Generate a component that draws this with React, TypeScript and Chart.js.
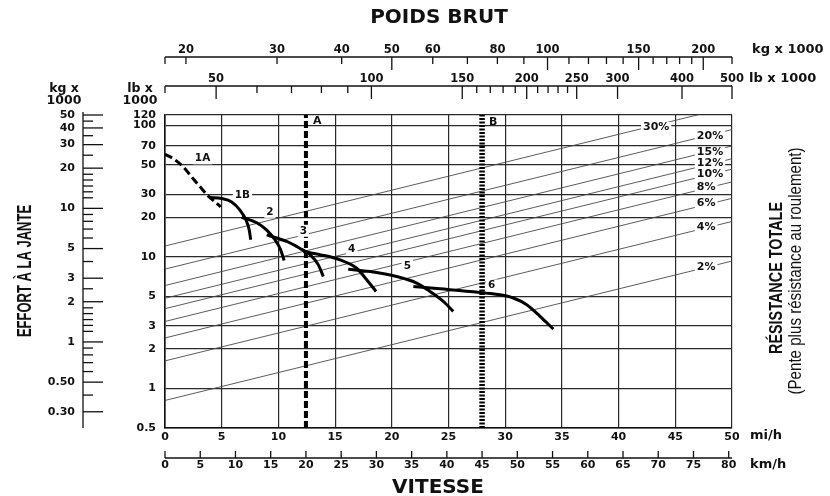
import React, { useEffect, useRef } from 'react';
import { Chart, registerables } from 'chart.js';

Chart.register(...registerables);

// ---------------- data ----------------
const speedTicksMph = [0, 5, 10, 15, 20, 25, 30, 35, 40, 45, 50];
const speedTicksKmh = [0, 5, 10, 15, 20, 25, 30, 35, 40, 45, 50, 55, 60, 65, 70, 75, 80];
const rimpullTicksLb = [0.5, 1, 2, 3, 5, 10, 20, 30, 50, 70, 100, 120];
const rimpullTickLabelsLb = ['0.5', '1', '2', '3', '5', '10', '20', '30', '50', '70', '100', '120'];

const rimpullMajorKg = [50, 40, 30, 20, 10, 5, 3, 2, 1, 0.5, 0.3];
const rimpullMajorKgLabels = ['50', '40', '30', '20', '10', '5', '3', '2', '1', '0.50', '0.30'];
const rimpullMinorKg = [45, 35, 25, 18, 16.3, 14.7, 13.3, 12, 9, 8, 7, 6, 4, 2.5, 1.8, 1.63, 1.47, 1.33, 1.2, 0.9, 0.8, 0.7, 0.6, 0.4];

const weightLabelsKg = [20, 30, 40, 50, 60, 80, 100, 150, 200];
const weightMajorKg = [50, 100, 150, 200];
const weightMinorKg = [20, 30, 40, 60, 70, 80, 90, 110, 120, 130, 140, 160, 170, 180, 190];
const weightLabelsLb = [50, 100, 150, 200, 250, 300, 400, 500];
const weightMinorLb = [60, 70, 80, 90, 160, 170, 180, 190, 210, 220, 230, 240];

// gear rimpull curves: speed (mi/h) and rimpull (lb x 1000)
const gear1AMph = [0, 0.73, 1.61, 2.35, 3.09, 3.82, 4.41, 4.91];
const gear1ALb = [60.3, 55.9, 48.3, 40.6, 34.1, 29.0, 26.2, 24.0];
const gear1BMph = [3.97, 5.0, 5.88, 6.61, 7.14, 7.43, 7.56];
const gear1BLb = [28.3, 27.8, 26.2, 22.7, 19.1, 16.0, 13.5];
const gear2Mph = [6.76, 8.09, 8.97, 9.7, 10.2, 10.5];
const gear2Lb = [20.0, 18.2, 16.0, 13.5, 11.3, 9.4];
const gear3Mph = [8.97, 10.73, 11.9, 12.79, 13.52, 13.96];
const gear3Lb = [14.7, 13.1, 11.6, 10.4, 8.7, 7.1];
const gear4Mph = [12.2, 13.67, 15.43, 16.9, 17.79, 18.61];
const gear4Lb = [11.0, 10.4, 9.5, 8.2, 6.7, 5.46];
const gear5Mph = [16.16, 18.08, 20.43, 22.2, 23.37, 24.54, 25.42];
const gear5Lb = [8.07, 7.74, 7.09, 6.32, 5.46, 4.59, 3.85];
const gear6Mph = [21.9, 24.25, 26.9, 29.54, 30.71, 31.9, 33.07, 34.24];
const gear6Lb = [5.96, 5.72, 5.46, 5.15, 4.87, 4.33, 3.53, 2.83];

const gearLabelNames = ['1A', '1B', '2', '3', '4', '5', '6'];
const gearLabelMph = [3.31, 6.83, 9.26, 12.2, 16.46, 21.37, 28.81];
const gearLabelLb = [56.2, 29.5, 22.0, 15.8, 11.4, 8.55, 6.06];

// total resistance lines (grade %), rimpull at 0 and 50 mi/h
const gradeNames = ['2%', '4%', '6%', '8%', '10%', '12%', '15%', '20%', '30%'];
const gradeStartLb = [0.81, 1.62, 2.42, 3.23, 4.04, 4.85, 6.06, 8.08, 12.1];
const gradeEndLb = [9.3, 18.6, 27.9, 37.2, 46.5, 55.8, 69.8, 93, 139.5];
const gradeLabelMph = [46.9, 46.9, 46.9, 46.9, 46.9, 46.9, 46.9, 46.9, 42.15];
const gradeLabelLb = [8.4, 16.9, 25.6, 33.9, 42.5, 51.5, 62.4, 82.5, 96.6];

// reference speeds (km/h)
const markerNames = ['A', 'B'];
const markerKmh = [20, 45];
const markerLabelLb = [107, 106];

// ---------------- styling ----------------
const FONT = '"DejaVu Sans", "Liberation Sans", Arial, sans-serif';
const FONT_N = '"Liberation Sans", Arial, sans-serif';
const INK = '#111';

const pts = (xs: number[], ys: number[]) => xs.map((x, i) => ({ x, y: ys[i] }));

const overlayPlugin = {
  id: 'overlay',
  afterDatasetsDraw(chart: any) {
    const { ctx, scales } = chart;
    const x = scales.x, y = scales.y, km = scales.xKmh;
    ctx.save();
    ctx.textBaseline = 'middle';
    // gear labels
    ctx.font = `bold 10.5px ${FONT}`;
    ctx.textAlign = 'center';
    gearLabelNames.forEach((t, i) => {
      const px = x.getPixelForValue(gearLabelMph[i]);
      const py = y.getPixelForValue(gearLabelLb[i]);
      const w = ctx.measureText(t).width;
      ctx.fillStyle = '#fff';
      ctx.fillRect(px - w / 2 - 2, py - 6, w + 4, 12);
      ctx.fillStyle = INK;
      ctx.fillText(t, px, py);
    });
    // grade labels
    ctx.font = `bold 11px ${FONT}`;
    ctx.textAlign = 'left';
    gradeNames.forEach((t, i) => {
      const px = x.getPixelForValue(gradeLabelMph[i]);
      const py = y.getPixelForValue(gradeLabelLb[i]);
      const w = ctx.measureText(t).width;
      ctx.fillStyle = '#fff';
      ctx.fillRect(px - 2, py - 5.5, w + 4, 11);
      ctx.fillStyle = INK;
      ctx.fillText(t, px, py);
    });
    // marker labels
    ctx.font = `bold 11px ${FONT}`;
    markerNames.forEach((t, i) => {
      const px = km.getPixelForValue(markerKmh[i]) + 7;
      const py = y.getPixelForValue(markerLabelLb[i]);
      ctx.fillStyle = INK;
      ctx.fillText(t, px, py);
    });
    ctx.restore();
  },
  afterDraw(chart: any) {
    const { ctx, chartArea: ca, scales } = chart;
    const kg = scales.xKg, lb = scales.xLb, km = scales.xKmh, ykg = scales.yKg;
    ctx.save();
    ctx.strokeStyle = INK;
    ctx.fillStyle = INK;
    ctx.lineWidth = 1.3;
    const seg = (x1: number, y1: number, x2: number, y2: number) => {
      ctx.beginPath();
      ctx.moveTo(x1, y1);
      ctx.lineTo(x2, y2);
      ctx.stroke();
    };

    // ---- top: kg x 1000 ----
    const yK = ca.top - 58;
    seg(ca.left, yK, ca.right, yK);
    seg(ca.left, yK, ca.left, yK + 7);
    seg(ca.right, yK, ca.right, yK + 7);
    weightMinorKg.forEach((v) => { const p = kg.getPixelForValue(v); seg(p, yK, p, yK + 7); });
    weightMajorKg.forEach((v) => { const p = kg.getPixelForValue(v); seg(p, yK, p, yK + 13); });
    ctx.font = `bold 11.5px ${FONT}`;
    ctx.textAlign = 'center';
    ctx.textBaseline = 'middle';
    weightLabelsKg.forEach((v) => ctx.fillText(String(v), kg.getPixelForValue(v), yK - 7));

    // ---- top: lb x 1000 ----
    const yL = ca.top - 29;
    seg(ca.left, yL, ca.right, yL);
    seg(ca.left, yL, ca.left, yL + 7);
    weightMinorLb.forEach((v) => { const p = lb.getPixelForValue(v); seg(p, yL, p, yL + 7); });
    weightLabelsLb.forEach((v) => { const p = lb.getPixelForValue(v); seg(p, yL, p, yL + 13); });
    weightLabelsLb.forEach((v) => ctx.fillText(String(v), lb.getPixelForValue(v), yL - 7));

    ctx.font = `bold 13px ${FONT}`;
    ctx.textAlign = 'left';
    ctx.fillText('kg x 1000', ca.right + 20, yK - 7);
    ctx.fillText('lb x 1000', ca.right + 17, yL - 7);

    // ---- left: kg x 1000 axis ----
    const xA = ca.left - 82;
    seg(xA, ykg.getPixelForValue(50) - 3, xA, ca.bottom);
    rimpullMinorKg.forEach((v) => { const p = ykg.getPixelForValue(v); seg(xA, p, xA + 10, p); });
    rimpullMajorKg.forEach((v) => { const p = ykg.getPixelForValue(v); seg(xA, p, xA + 20, p); });
    ctx.font = `bold 11px ${FONT}`;
    ctx.textAlign = 'right';
    rimpullMajorKg.forEach((v, i) => ctx.fillText(rimpullMajorKgLabels[i], xA - 8, ykg.getPixelForValue(v)));

    ctx.font = `bold 12.5px ${FONT}`;
    ctx.textAlign = 'center';
    ctx.fillText('kg x', 64, ca.top - 26);
    ctx.fillText('1000', 64, ca.top - 14);
    ctx.fillText('lb x', 140, ca.top - 26);
    ctx.fillText('1000', 140, ca.top - 14);

    // ---- bottom: km/h axis ----
    const yB = ca.bottom + 30;
    seg(ca.left, yB, ca.right, yB);
    speedTicksKmh.forEach((v) => { const p = km.getPixelForValue(v); seg(p, yB, p, yB - 7); });
    ctx.font = `bold 11px ${FONT}`;
    ctx.textAlign = 'center';
    speedTicksKmh.forEach((v) => ctx.fillText(String(v), km.getPixelForValue(v), yB + 7));

    ctx.font = `bold 13px ${FONT}`;
    ctx.textAlign = 'left';
    ctx.fillText('mi/h', ca.right + 18, ca.bottom + 8);
    ctx.fillText('km/h', ca.right + 18, yB + 7);

    // ---- titles ----
    ctx.font = `bold 20px ${FONT}`;
    ctx.textAlign = 'center';
    ctx.fillText('POIDS BRUT', 439, 18);
    ctx.fillText('VITESSE', 438, 488);

    const rot = (text: string, bx: number, cy: number, font: string, sx: number) => {
      ctx.save();
      ctx.translate(bx, cy);
      ctx.rotate(-Math.PI / 2);
      ctx.scale(sx, 1);
      ctx.font = font;
      ctx.textAlign = 'center';
      ctx.textBaseline = 'alphabetic';
      ctx.fillText(text, 0, 0);
      ctx.restore();
    };
    rot('EFFORT À LA JANTE', 31, 271, `bold 20px ${FONT_N}`, 0.65);
    rot('RÉSISTANCE TOTALE', 782, 278, `bold 18px ${FONT_N}`, 0.8);
    rot('(Pente plus résistance au roulement)', 801, 271, `18px ${FONT_N}`, 0.84);

    ctx.restore();
  },
};

export default function App() {
  const ref = useRef<HTMLCanvasElement>(null);

  useEffect(() => {
    const canvas = ref.current;
    if (!canvas) return;

    const gears = [
      { mph: gear1AMph, lb: gear1ALb, dash: [8, 4] },
      { mph: gear1BMph, lb: gear1BLb, dash: [] },
      { mph: gear2Mph, lb: gear2Lb, dash: [] },
      { mph: gear3Mph, lb: gear3Lb, dash: [] },
      { mph: gear4Mph, lb: gear4Lb, dash: [] },
      { mph: gear5Mph, lb: gear5Lb, dash: [] },
      { mph: gear6Mph, lb: gear6Lb, dash: [] },
    ];

    const datasets: any[] = [];
    gears.forEach((g) => {
      datasets.push({
        data: pts(g.mph, g.lb),
        borderColor: '#000',
        borderWidth: 3,
        borderDash: g.dash,
        pointRadius: 0,
        cubicInterpolationMode: 'monotone',
        xAxisID: 'x',
        yAxisID: 'y',
        order: 1,
      });
    });
    markerKmh.forEach((v, i) => {
      datasets.push({
        data: [{ x: v, y: 0.5 }, { x: v, y: 120 }],
        borderColor: '#000',
        borderWidth: i === 0 ? 4 : 5.5,
        borderDash: i === 0 ? [7, 3] : [2, 1.5],
        borderCapStyle: 'butt',
        pointRadius: 0,
        xAxisID: 'xKmh',
        yAxisID: 'y',
        order: 2,
      });
    });
    gradeNames.forEach((_, i) => {
      datasets.push({
        data: [{ x: 0, y: gradeStartLb[i] }, { x: 50, y: gradeEndLb[i] }],
        borderColor: '#4a4a4a',
        borderWidth: 0.9,
        pointRadius: 0,
        xAxisID: 'x',
        yAxisID: 'y',
        order: 3,
      });
    });

    const tickFont = { family: FONT, size: 11, weight: 'bold' as const };

    const chart = new Chart(canvas, {
      type: 'line',
      data: { datasets },
      plugins: [overlayPlugin],
      options: {
        animation: false,
        responsive: false,
        devicePixelRatio: 1,
        events: [],
        layout: { padding: { top: 115, right: 98, left: 0, bottom: 0 } },
        plugins: { legend: { display: false }, tooltip: { enabled: false } },
        scales: {
          x: {
            type: 'linear',
            position: 'bottom',
            min: 0,
            max: 50,
            afterBuildTicks: (s: any) => { s.ticks = speedTicksMph.map((v) => ({ value: v })); },
            afterFit: (s: any) => { s.height = 68; },
            grid: { color: '#2a2a2a', lineWidth: 1.2, drawTicks: false },
            border: { color: INK, width: 1.6 },
            ticks: { padding: 3, autoSkip: false, maxRotation: 0, color: INK, font: tickFont },
          },
          y: {
            type: 'logarithmic',
            position: 'left',
            min: 0.5,
            max: 120,
            afterBuildTicks: (s: any) => { s.ticks = rimpullTicksLb.map((v) => ({ value: v })); },
            afterFit: (s: any) => { s.width = 165; },
            grid: { color: '#2a2a2a', lineWidth: 1.2, drawTicks: false },
            border: { color: INK, width: 1.6 },
            ticks: {
              padding: 9,
              autoSkip: false,
              color: INK,
              font: tickFont,
              callback: (v: any) => {
                const i = rimpullTicksLb.indexOf(Number(v));
                return i >= 0 ? rimpullTickLabelsLb[i] : '';
              },
            },
          },
          xKmh: { type: 'linear', axis: 'x', position: 'bottom', min: 0, max: 80.4672, display: false },
          xKg: { type: 'logarithmic', axis: 'x', position: 'top', min: 18.22, max: 227.3, display: false },
          xLb: { type: 'logarithmic', axis: 'x', position: 'top', min: 39.8, max: 500, display: false },
          yKg: { type: 'logarithmic', axis: 'y', position: 'left', min: 0.2268, max: 50, display: false },
        },
      } as any,
    });

    return () => chart.destroy();
  }, []);

  return (
    <div style={{ position: 'absolute', left: 0, top: 0, width: 830, height: 496, background: '#fff' }}>
      <canvas ref={ref} width={830} height={496} style={{ display: 'block', width: 830, height: 496 }} />
    </div>
  );
}
